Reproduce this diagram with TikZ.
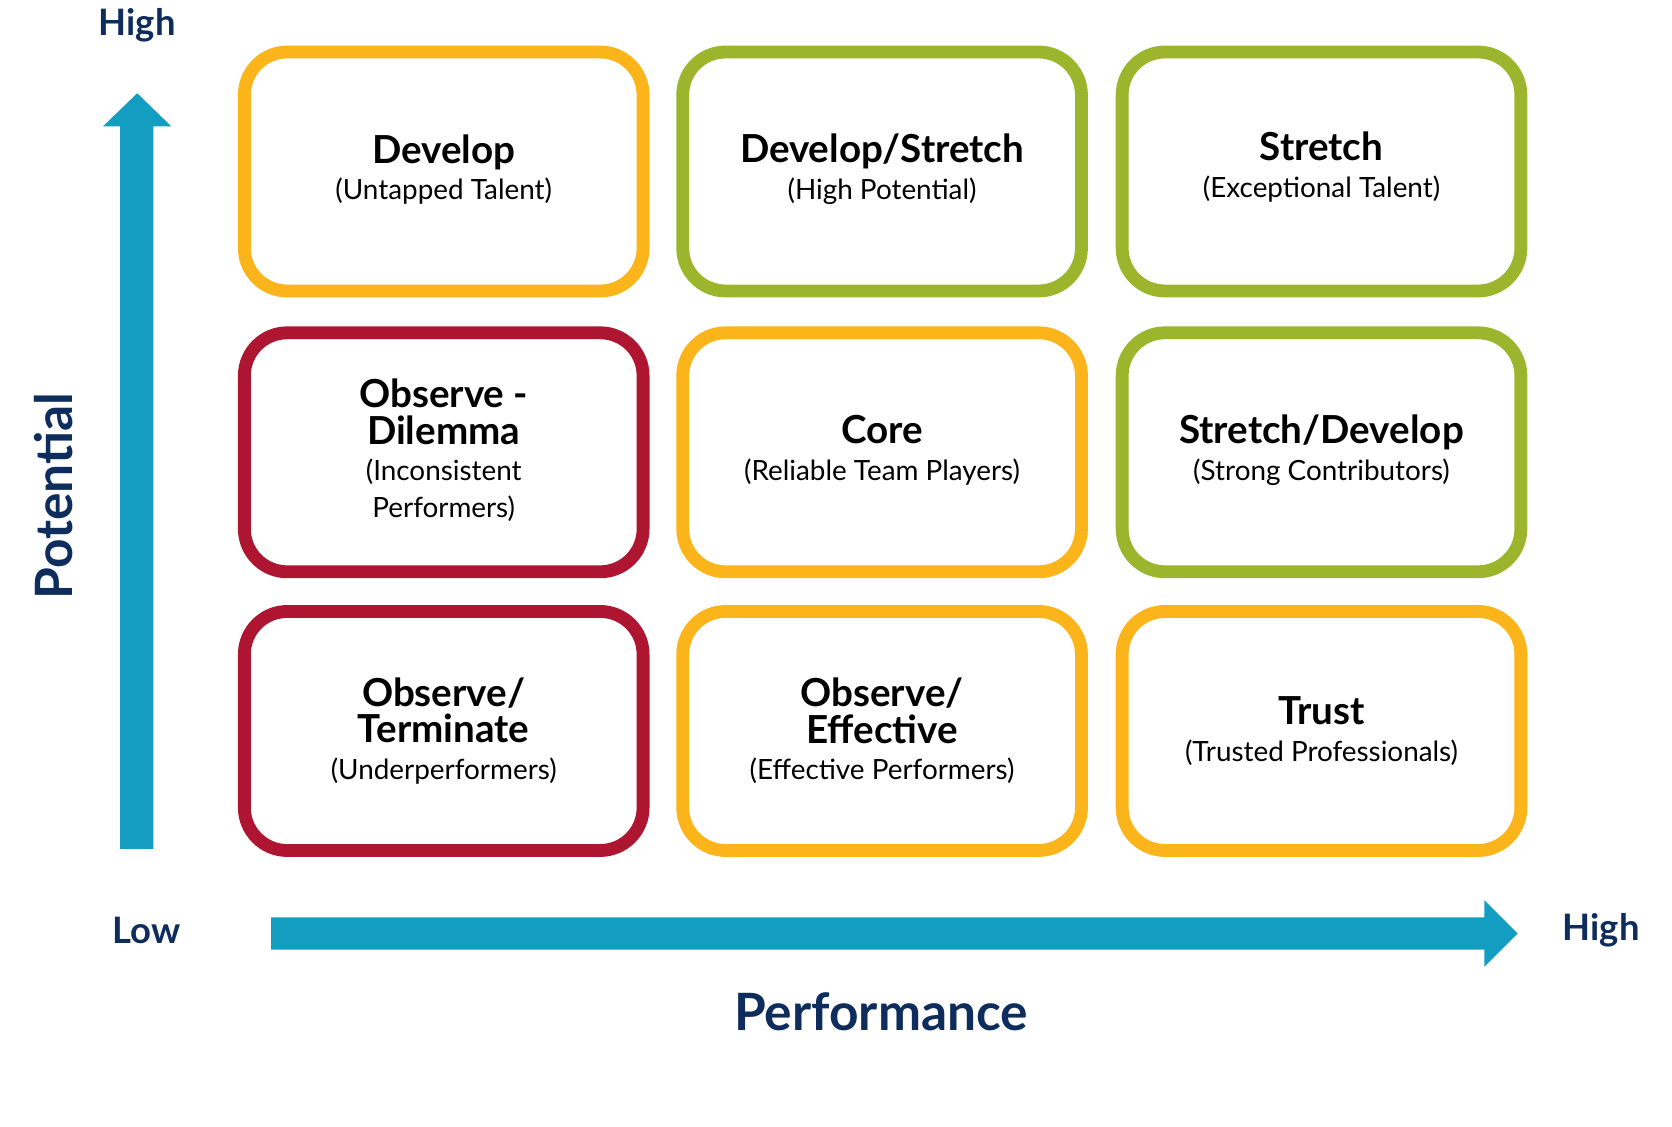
\documentclass[tikz,border=0pt]{standalone}
\usepackage{fontspec}
\setmainfont{Lato}
\begin{document}
\definecolor{orng}{HTML}{FBB41A}
\definecolor{grn}{HTML}{9DB52C}
\definecolor{rd}{HTML}{AE1530}
\definecolor{blu}{HTML}{139DC1}
\definecolor{nvy}{HTML}{0F2D5C}
\begin{tikzpicture}[x=0.5pt,y=-0.5pt,
  box/.style={draw=#1, line width=6pt, rounded corners=20pt, minimum width=186pt, minimum height=111.5pt, fill=white},
  lbl/.style={align=center, font=\fontsize{13}{17}\selectfont, text=black},
  ax/.style={text=nvy, font=\fontsize{17}{20}\selectfont\bfseries},
  arr/.style={fill=blu, draw=none}]
\useasboundingbox (0,0) rectangle (1560,1051);
\newcommand{\ttl}[1]{{\fontsize{18}{23.5}\selectfont\bfseries #1}}
% boxes
\node[box=orng] (b13) at (414,160) {};
\node[box=grn]  (b23) at (823,160) {};
\node[box=grn]  (b33) at (1233,160) {};
\node[box=rd]   (b12) at (414,422) {};
\node[box=orng] (b22) at (823,422) {};
\node[box=grn]  (b32) at (1233,422) {};
\node[box=rd]   (b11) at (414,682) {};
\node[box=orng] (b21) at (823,682) {};
\node[box=orng] (b31) at (1233,682) {};
% texts
\node[lbl] (t13) at (414,158) {\ttl{Develop}\\(Untapped Talent)};
\node[lbl] (t23) at (823,158) {\ttl{Develop/Stretch}\\(High Potential)};
\node[lbl] (t33) at (1233,156) {\ttl{Stretch}\\(Exceptional Talent)};
\node[lbl] (t12) at (414,420) {\ttl{Observe -}\\\ttl{Dilemma}\\(Inconsistent\\Performers)};
\node[lbl] (t22) at (823,420) {\ttl{Core}\\(Reliable Team Players)};
\node[lbl] (t32) at (1233,420) {\ttl{Stretch/Develop}\\(Strong Contributors)};
\node[lbl] (t11) at (414,682) {\ttl{Observe/}\\\ttl{Terminate}\\(Underperformers)};
\node[lbl] (t21) at (823,682) {\ttl{Observe/}\\\ttl{Effective}\\(Effective Performers)};
\node[lbl] (t31) at (1233,682) {\ttl{Trust}\\(Trusted Professionals)};
% arrows
\fill[arr] (112,792) -- (112,118) -- (96,118) -- (128,87) -- (160,118) -- (143,118) -- (143,792) -- cycle;
\fill[arr] (253,856) -- (1385,856) -- (1385,840) -- (1416,871) -- (1385,902) -- (1385,886) -- (253,886) -- cycle;
% axis labels
\node[ax] (hy) at (128,24) {High};
\node[ax] (lo) at (137,868) {Low};
\node[ax] (hx) at (1494,868) {High};
\node[ax, font=\fontsize{24}{28}\selectfont\bfseries] (perf) at (822,944) {Performance};
\node[ax, font=\fontsize{24}{28}\selectfont\bfseries, rotate=90] (pot) at (50,463) {Potential};
\end{tikzpicture}
\end{document}
